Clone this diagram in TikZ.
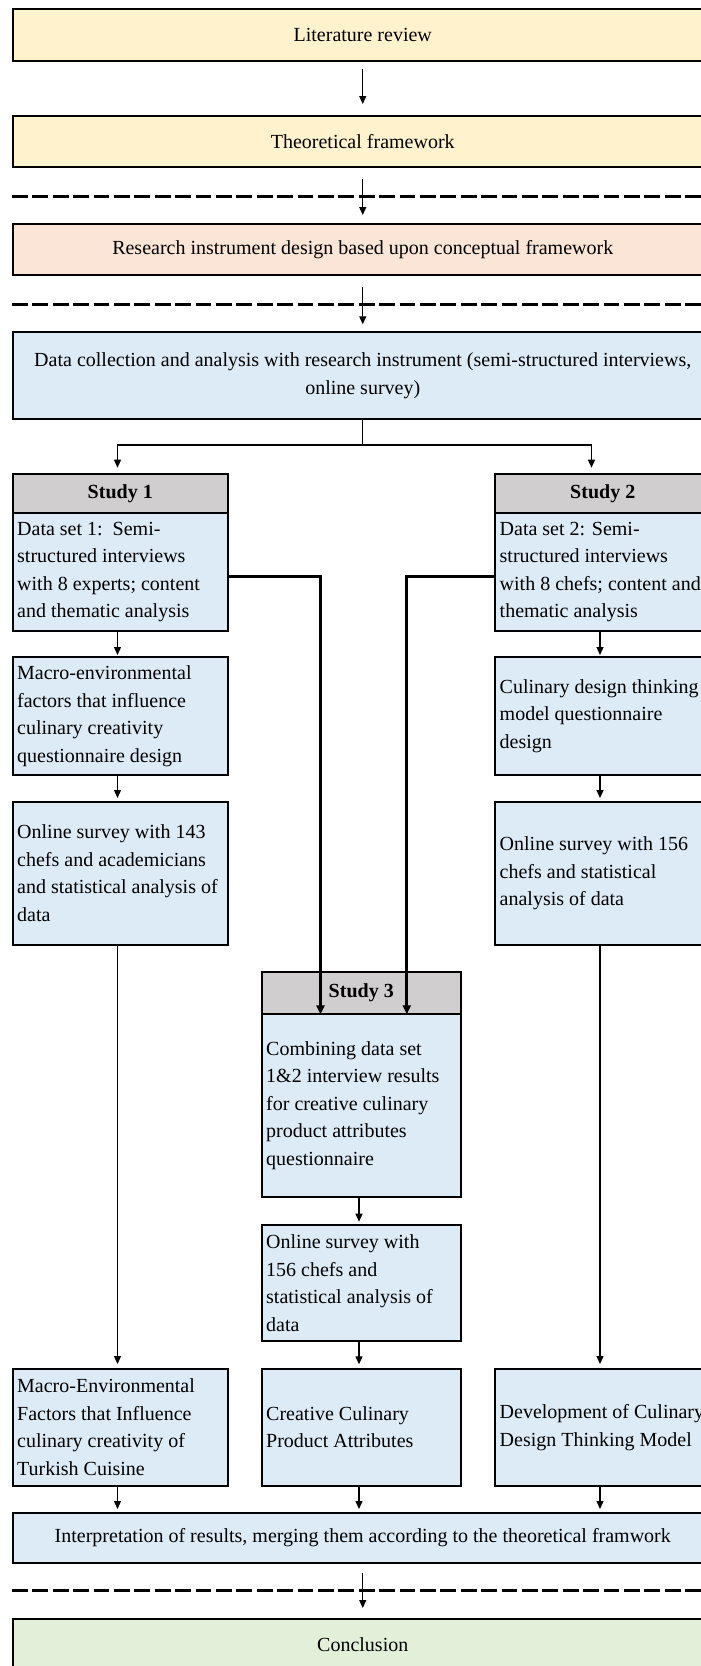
\documentclass[tikz,border=0pt]{standalone}
\usepackage{fontspec}
\setmainfont{Liberation Serif}
\usetikzlibrary{arrows.meta,calc}
\definecolor{litfill}{HTML}{FFF2CC}
\definecolor{resfill}{HTML}{FBE5D6}
\definecolor{datafill}{HTML}{DDEBF7}
\definecolor{headfill}{HTML}{D0CECE}
\definecolor{concfill}{HTML}{E2F0D9}
\begin{document}
\begin{tikzpicture}[x=1pt,y=-1pt,
  box/.style={draw=black, line width=2pt, inner sep=0pt, outer sep=0pt,
    font=\fontsize{20}{27.5}\selectfont},
  wide/.style={box, minimum width=700.5pt},
  side/.style={box, fill=datafill, minimum width=215.5pt},
  mid/.style={box, fill=datafill, minimum width=199.5pt},
  head/.style={box, fill=headfill, font=\fontsize{20}{27.5}\selectfont\bfseries},
  txt/.style={align=left, inner sep=0pt, anchor=west,
    font=\fontsize{20}{27.5}\selectfont},
  arr/.style={line width=1.2pt, -{Triangle[length=8pt,width=7pt]}},
  link/.style={line width=1.2pt},
  tarr/.style={line width=3pt, -{Triangle[length=9pt,width=8pt]}},
  sep/.style={line width=3pt, dash pattern=on 15.7pt off 4.7pt}]
\useasboundingbox (0,0) rectangle (701,1666);
\clip (0,0) rectangle (701,1666);

% main sequence
\node[wide, fill=litfill, minimum height=52pt] (lit) at (362.75,35) {Literature review};
\node[wide, fill=litfill, minimum height=51pt] (theo) at (362.75,141.2) {Theoretical framework};
\node[wide, fill=resfill, minimum height=51.6pt] (res) at (362.75,249.5) {Research instrument design based upon conceptual framework};
\node[wide, fill=datafill, minimum height=87pt, align=center] (data) at (362.75,375.8)
  {Data collection and analysis with research instrument (semi-structured interviews,\\online survey)};

% separators
\draw[sep] (12,196) -- (720,196);
\draw[sep] (12,304) -- (720,304);
\draw[sep] (12,1590.7) -- (720,1590.7);

% study 1 column
\node[head, minimum width=215.5pt, minimum height=39pt] (s1h) at (120.25,493.8) {Study 1};
\node[side, minimum height=117.4pt] (s1b) at (120.25,572) {};
\node[txt] (s1t) at ([xshift=4.5pt]s1b.west) {Data set 1:\ \ Semi-\\structured interviews\\with 8 experts; content\\and thematic analysis};
\node[side, minimum height=117.7pt] (mac) at (120.25,716.15) {};
\node[txt] (mact) at ([xshift=4.5pt]mac.west) {Macro-environmental\\factors that influence\\culinary creativity\\questionnaire design};
\node[side, minimum height=143.3pt] (on1) at (120.25,873.35) {};
\node[txt] (on1t) at ([xshift=4.5pt]on1.west) {Online survey with 143\\chefs and academicians\\and statistical analysis of\\data};

% study 2 column
\node[head, minimum width=215.5pt, minimum height=39pt] (s2h) at (602.75,493.8) {Study 2};
\node[side, minimum height=117.4pt] (s2b) at (602.75,572) {};
\node[txt] (s2t) at ([xshift=4.5pt]s2b.west) {Data set 2: Semi-\\structured interviews\\with 8 chefs; content and\\thematic analysis};
\node[side, minimum height=117.7pt] (cul) at (602.75,716.15) {};
\node[txt] (cult) at ([xshift=4.5pt]cul.west) {Culinary design thinking\\model questionnaire\\design};
\node[side, minimum height=143.3pt] (on2) at (602.75,873.35) {};
\node[txt] (on2t) at ([xshift=4.5pt]on2.west) {Online survey with 156\\chefs and statistical\\analysis of data};

% study 3 column
\node[head, minimum width=199.5pt, minimum height=42.6pt] (s3h) at (361.25,993) {Study 3};
\node[mid, minimum height=182.7pt] (s3b) at (361.25,1105.65) {};
\node[txt] (s3t) at ([xshift=4.5pt]s3b.west) {Combining data set\\1\&2 interview results\\for creative culinary\\product attributes\\questionnaire};
\node[mid, minimum height=116pt] (onm) at (361.25,1283) {};
\node[txt] (onmt) at ([xshift=4.5pt]onm.west) {Online survey with\\156 chefs and\\statistical analysis of\\data};

% results row
\node[side, minimum height=116.7pt] (bl) at (120.25,1427.35) {};
\node[txt] (blt) at ([xshift=4.5pt]bl.west) {Macro-Environmental\\Factors that Influence\\culinary creativity of\\Turkish Cuisine};
\node[mid, minimum height=116.7pt] (bm) at (361.25,1427.35) {};
\node[txt] (bmt) at ([xshift=4.5pt]bm.west) {Creative Culinary\\Product Attributes};
\node[side, minimum height=116.7pt] (br) at (602.75,1427.35) {};
\node[txt] (brt) at ([xshift=4.5pt]br.west) {Development of Culinary\\Design Thinking Model};

\node[wide, fill=datafill, minimum height=50.6pt] (interp) at (362.75,1538) {Interpretation of results, merging them according to the theoretical framwork};
\node[wide, fill=concfill, minimum height=52pt] (conc) at (362.75,1645) {Conclusion};

% arrows of the main sequence
\draw[arr, shorten <=8pt, shorten >=11.7pt] (lit) -- (theo);
\draw[arr, shorten <=12pt, shorten >=8.7pt] (theo) -- (res);
\draw[arr, shorten <=11.7pt, shorten >=8pt] (res) -- (data);
\draw[arr, shorten <=10pt, shorten >=11pt] (interp) -- (conc);

% split into the two studies
\coordinate (split) at (362.75,445);
\draw[link] (data.south) -- (split);
\draw[arr, shorten >=6.6pt] (split) -| ([xshift=-2.75pt]s1h.north);
\draw[arr, shorten >=6.6pt] (split) -| ([xshift=-11.25pt]s2h.north);

% left column
\draw[arr, shorten >=2.3pt] ([xshift=-2.75pt]s1b.south) -- ([xshift=-2.75pt]mac.north);
\draw[arr, shorten >=3.7pt] ([xshift=-2.75pt]mac.south) -- ([xshift=-2.75pt]on1.north);
\draw[arr, shorten >=5pt] ([xshift=-2.75pt]on1.south) -- ([xshift=-2.75pt]bl.north);
\draw[arr, shorten >=3.7pt] ([xshift=-2.75pt]bl.south) -- ([xshift=-2.75pt]bl.south |- interp.north);

% right column
\draw[arr, shorten >=2.3pt] ([xshift=-2.75pt]s2b.south) -- ([xshift=-2.75pt]cul.north);
\draw[arr, shorten >=3.7pt] ([xshift=-2.75pt]cul.south) -- ([xshift=-2.75pt]on2.north);
\draw[arr, shorten >=5pt] ([xshift=-2.75pt]on2.south) -- ([xshift=-2.75pt]br.north);
\draw[arr, shorten >=3.7pt] ([xshift=-2.75pt]br.south) -- ([xshift=-2.75pt]br.south |- interp.north);

% middle column
\draw[arr, shorten <=1pt, shorten >=3.3pt] ([xshift=-2.25pt]s3b.south) -- ([xshift=-2.25pt]onm.north);
\draw[arr, shorten >=4.7pt] ([xshift=-2.25pt]onm.south) -- ([xshift=-2.25pt]bm.north);
\draw[arr, shorten >=3.7pt] ([xshift=-2.25pt]bm.south) -- ([xshift=-2.25pt]bm.south |- interp.north);

% interview data sets feeding study 3
\draw[tarr] ([yshift=-4pt]s1b.east) -| ([xshift=-40.75pt]s3b.north);
\draw[tarr] ([yshift=-4pt]s2b.west) -| ([xshift=45.55pt]s3b.north);
\end{tikzpicture}
\end{document}
